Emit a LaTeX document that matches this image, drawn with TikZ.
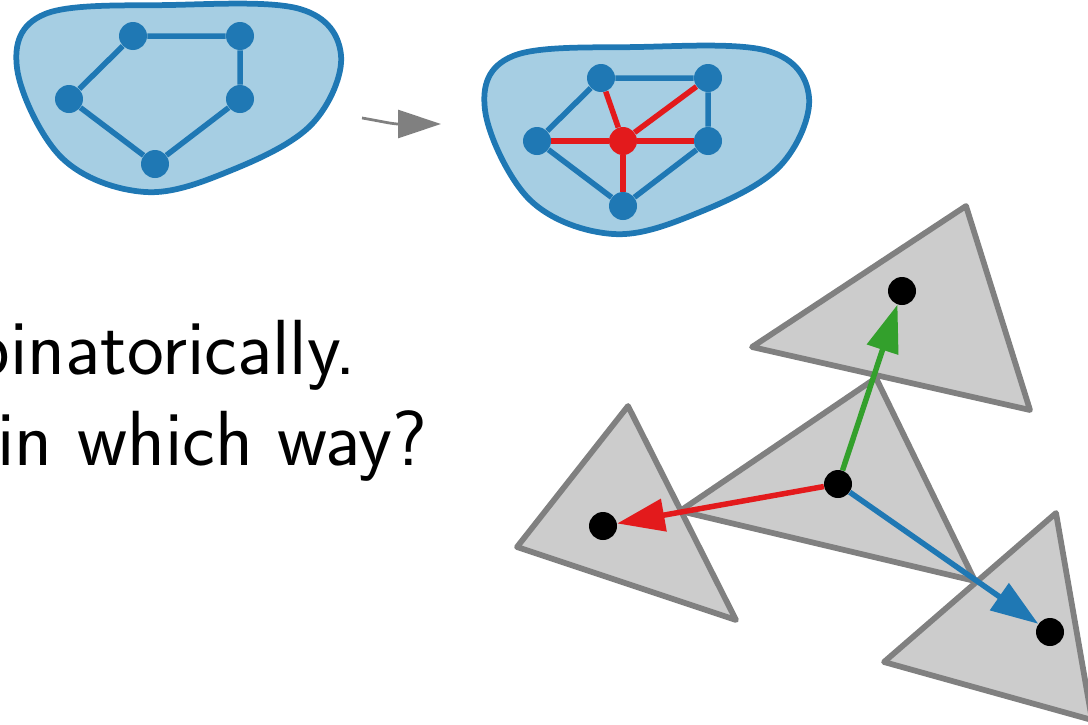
\documentclass[tikz,border=0pt]{standalone}
\usepackage{xcolor}
\usepackage{tikz}
\usetikzlibrary{arrows.meta}

\definecolor{blobblue}{HTML}{1F78B4}
\definecolor{blobfill}{HTML}{A6CEE3}
\definecolor{newred}{HTML}{E31A1C}
\definecolor{upgreen}{HTML}{33A02C}
\definecolor{trigray}{HTML}{808080}
\definecolor{trifill}{HTML}{CCCCCC}

% outline of a region, in pixel units
\newcommand{\blobshape}{plot[smooth cycle, tension=0.6] coordinates {(17,68) (45,14) (170,5) (300,9) (341,55) (312,124) (232,170) (145,192) (62,158)}}

\begin{document}
\begin{tikzpicture}[
    x=0.02cm, y=-0.02cm,
    blob/.style={draw=blobblue, fill=blobfill, line width=0.115cm},
    vertex/.style={circle, fill=blobblue, inner sep=0pt, minimum size=0.56cm},
    newvertex/.style={vertex, fill=newred},
    graphedge/.style={draw=blobblue, line width=0.11cm},
    newedge/.style={draw=newred, line width=0.11cm},
    refine/.style={draw=trigray, line width=0.055cm, -{Triangle[length=0.86cm, width=0.56cm]}},
    tri/.style={draw=trigray, fill=trifill, line width=0.115cm, line join=round},
    site/.style={circle, fill=black, inner sep=0pt, minimum size=0.56cm},
    jump/.style={line width=0.11cm, -{Triangle[length=0.95cm, width=0.64cm]}},
    question/.style={font=\sffamily\fontsize{44.5}{52}\selectfont, inner sep=0pt, anchor=base west}
]
\useasboundingbox (0,0) rectangle (1088,724);
\clip (0,0) rectangle (1088,724);

% coarse region
\draw[blob] \blobshape;
\node[vertex] (a1) at (133,36) {};
\node[vertex] (a2) at (240,36) {};
\node[vertex] (a3) at (240,99) {};
\node[vertex] (a4) at (155,164) {};
\node[vertex] (a5) at (69,99) {};
\draw[graphedge] (a1) -- (a2) -- (a3) -- (a4) -- (a5) -- (a1);

% refined region
\begin{scope}[shift={(468,42)}]
\draw[blob] \blobshape;
\node[vertex] (b1) at (133,36) {};
\node[vertex] (b2) at (240,36) {};
\node[vertex] (b3) at (240,99) {};
\node[vertex] (b4) at (155,164) {};
\node[vertex] (b5) at (69,99) {};
\node[newvertex] (bc) at (155,99) {};
\draw[graphedge] (b1) -- (b2) -- (b3) -- (b4) -- (b5) -- (b1);
\draw[newedge] (bc) -- (b1);
\draw[newedge] (bc) -- (b2);
\draw[newedge] (bc) -- (b3);
\draw[newedge] (bc) -- (b4);
\draw[newedge] (bc) -- (b5);
\end{scope}

\coordinate (from) at (362,118);
\coordinate (to) at (441,124);
\draw[refine] (from) .. controls (380,121) and (392,124) .. (to);

\node[question] (line1) at (-28,374) {binatorically.};
\node[question] (line2) at (-3,465) {in which way?};

% triangles
\draw[tri] (876,378) -- (680,511) -- (975,581) -- cycle;
\draw[tri] (752,347) -- (966,206) -- (1030,410) -- cycle;
\draw[tri] (628,406) -- (517,547) -- (736,620) -- cycle;
\draw[tri] (1056,513) -- (884,662) -- (1092,720) -- cycle;

\node[site] (c) at (838,484) {};
\node[site] (g) at (902,291) {};
\node[site] (r) at (603,526) {};
\node[site] (b) at (1050,632) {};

\draw[jump, upgreen] (c) -- (g);
\draw[jump, newred] (c) -- (r);
\draw[jump, blobblue] (c) -- (b);

\end{tikzpicture}
\end{document}
